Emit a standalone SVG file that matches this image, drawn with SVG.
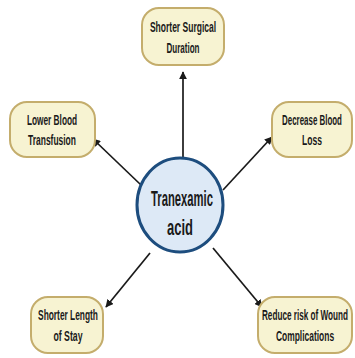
<svg xmlns="http://www.w3.org/2000/svg" width="355" height="358" viewBox="0 0 355 358">
<style>
.node{fill:#f7f3d2;stroke:#c4ad6c;stroke-width:2}
.lbl{font-family:"Liberation Sans",Arial,sans-serif;font-weight:bold;font-size:15px;fill:#1a1a1a;text-anchor:middle}
.big{font-size:22px}
.conn{stroke:#1a1a1a;stroke-width:1.7;fill:none;marker-end:url(#ah)}
</style>
<defs>
<marker id="ah" viewBox="0 0 10 10" refX="9" refY="5" markerWidth="8" markerHeight="8" markerUnits="userSpaceOnUse" orient="auto">
<path d="M0,0 L10,5 L0,10 z" fill="#1a1a1a"/>
</marker>
</defs>
<rect width="355" height="358" fill="#ffffff"/>
<g id="connectors">
<line class="conn" x1="183" y1="157" x2="183" y2="72"/>
<line class="conn" x1="141" y1="185" x2="93" y2="139"/>
<line class="conn" x1="223" y1="190" x2="272" y2="137"/>
<line class="conn" x1="150" y1="253" x2="106" y2="307"/>
<line class="conn" x1="213" y1="248" x2="262" y2="307"/>
</g>
<g id="center">
<ellipse cx="180" cy="205" rx="43" ry="47" fill="#dde9f6" stroke="#1d4d7e" stroke-width="3"/>
<text class="lbl big" transform="translate(182,206) scale(0.52,1)" textLength="119" lengthAdjust="spacingAndGlyphs">Tranexamic</text>
<text class="lbl big" transform="translate(180,235) scale(0.52,1)" textLength="50" lengthAdjust="spacingAndGlyphs">acid</text>
</g>
<g id="n-surgical">
<rect class="node" x="142" y="8" width="82" height="57" rx="17"/>
<text class="lbl" transform="translate(183,32) scale(0.57,1)" textLength="116" lengthAdjust="spacingAndGlyphs">Shorter Surgical</text>
<text class="lbl" transform="translate(183,53) scale(0.57,1)" textLength="58" lengthAdjust="spacingAndGlyphs">Duration</text>
</g>
<g id="n-transfusion">
<rect class="node" x="10" y="102" width="85" height="55" rx="17"/>
<text class="lbl" transform="translate(52,125) scale(0.57,1)" textLength="88" lengthAdjust="spacingAndGlyphs">Lower Blood</text>
<text class="lbl" transform="translate(52,145) scale(0.57,1)" textLength="84" lengthAdjust="spacingAndGlyphs">Transfusion</text>
</g>
<g id="n-bloodloss">
<rect class="node" x="272" y="102" width="80" height="55" rx="17"/>
<text class="lbl" transform="translate(312,125) scale(0.57,1)" textLength="105" lengthAdjust="spacingAndGlyphs">Decrease Blood</text>
<text class="lbl" transform="translate(312,145) scale(0.57,1)" textLength="35" lengthAdjust="spacingAndGlyphs">Loss</text>
</g>
<g id="n-stay">
<rect class="node" x="31" y="297" width="72" height="56" rx="17"/>
<text class="lbl" transform="translate(68,320) scale(0.57,1)" textLength="105" lengthAdjust="spacingAndGlyphs">Shorter Length</text>
<text class="lbl" transform="translate(68,341) scale(0.57,1)" textLength="51" lengthAdjust="spacingAndGlyphs">of Stay</text>
</g>
<g id="n-wound">
<rect class="node" x="258" y="297" width="94" height="56" rx="17"/>
<text class="lbl" transform="translate(305,320) scale(0.57,1)" textLength="151" lengthAdjust="spacingAndGlyphs">Reduce risk of Wound</text>
<text class="lbl" transform="translate(305,341) scale(0.57,1)" textLength="102" lengthAdjust="spacingAndGlyphs">Complications</text>
</g>
</svg>
